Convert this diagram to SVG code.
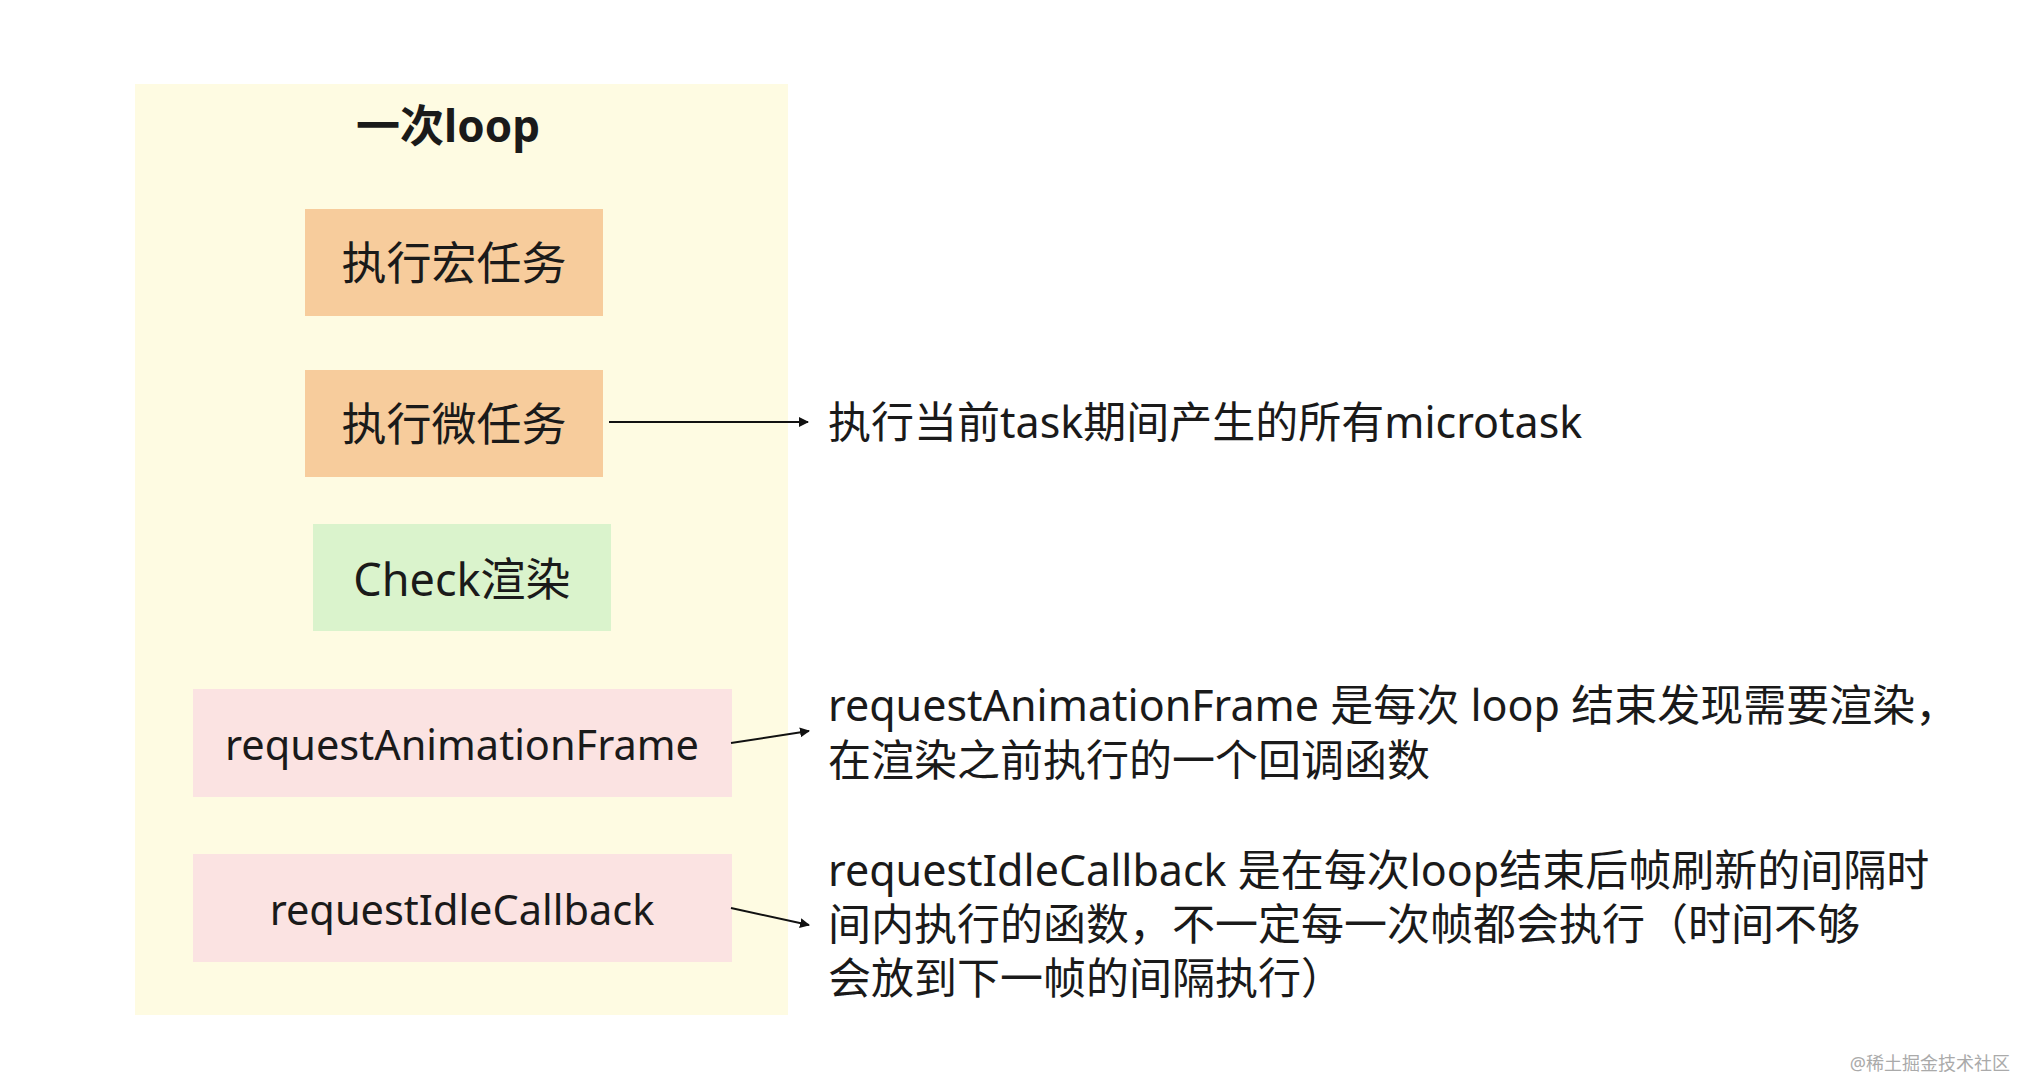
<svg xmlns="http://www.w3.org/2000/svg" width="2020" height="1080" viewBox="0 0 2020 1080">
<style>
text{font-family:"Noto Sans","Noto Sans CJK SC",sans-serif;fill:#1a1a1a}
.n{font-size:45px;text-anchor:middle;dominant-baseline:central}
.d{font-size:43px}
.c{stroke:#111;stroke-width:2;fill:none}
</style>
<defs><marker id="a" markerWidth="10" markerHeight="10" refX="9" refY="5" orient="auto" markerUnits="userSpaceOnUse"><path d="M0,0 L10,5 L0,10 z" fill="#111"/></marker></defs>
<rect width="2020" height="1080" fill="#fff"/>
<g id="loop"><rect x="135" y="84" width="653" height="931" fill="#FEFBE2"/>
<text x="448" y="125" style="font-size:44px;font-weight:bold;text-anchor:middle;dominant-baseline:central">一次loop</text></g>
<g id="macro"><rect x="305" y="209" width="298" height="107" fill="#F7CC9C"/><text class="n" x="454" y="262">执行宏任务</text></g>
<g id="micro"><rect x="305" y="370" width="298" height="107" fill="#F7CC9C"/><text class="n" x="454" y="423">执行微任务</text></g>
<g id="check"><rect x="313" y="524" width="298" height="107" fill="#DAF3CC"/><text class="n" x="462" y="578">Check渲染</text></g>
<g id="raf"><rect x="193" y="689" width="539" height="108" fill="#FBE3E2"/><text class="n" x="462" y="744" style="font-size:41.5px">requestAnimationFrame</text></g>
<g id="ric"><rect x="193" y="854" width="539" height="108" fill="#FBE3E2"/><text class="n" x="462" y="909" style="font-size:41.5px">requestIdleCallback</text></g>
<g id="connectors">
<line class="c" x1="609" y1="422" x2="808" y2="422" marker-end="url(#a)"/>
<line class="c" x1="731" y1="743" x2="809" y2="731" marker-end="url(#a)"/>
<line class="c" x1="731" y1="908" x2="809" y2="925" marker-end="url(#a)"/>
</g>
<g id="notes">
<text class="d" x="828" y="438">执行当前task期间产生的所有microtask</text>
<text class="d" x="828" y="721">requestAnimationFrame 是每次 loop 结束发现需要渲染，</text>
<text class="d" x="828" y="776">在渲染之前执行的一个回调函数</text>
<text class="d" x="828" y="886">requestIdleCallback 是在每次loop结束后帧刷新的间隔时</text>
<text class="d" x="828" y="940">间内执行的函数，不一定每一次帧都会执行（时间不够</text>
<text class="d" x="828" y="994">会放到下一帧的间隔执行）</text>
</g>
<text x="2010" y="1070" style="font-size:18px;fill:#aaa;text-anchor:end">@稀土掘金技术社区</text>
</svg>
